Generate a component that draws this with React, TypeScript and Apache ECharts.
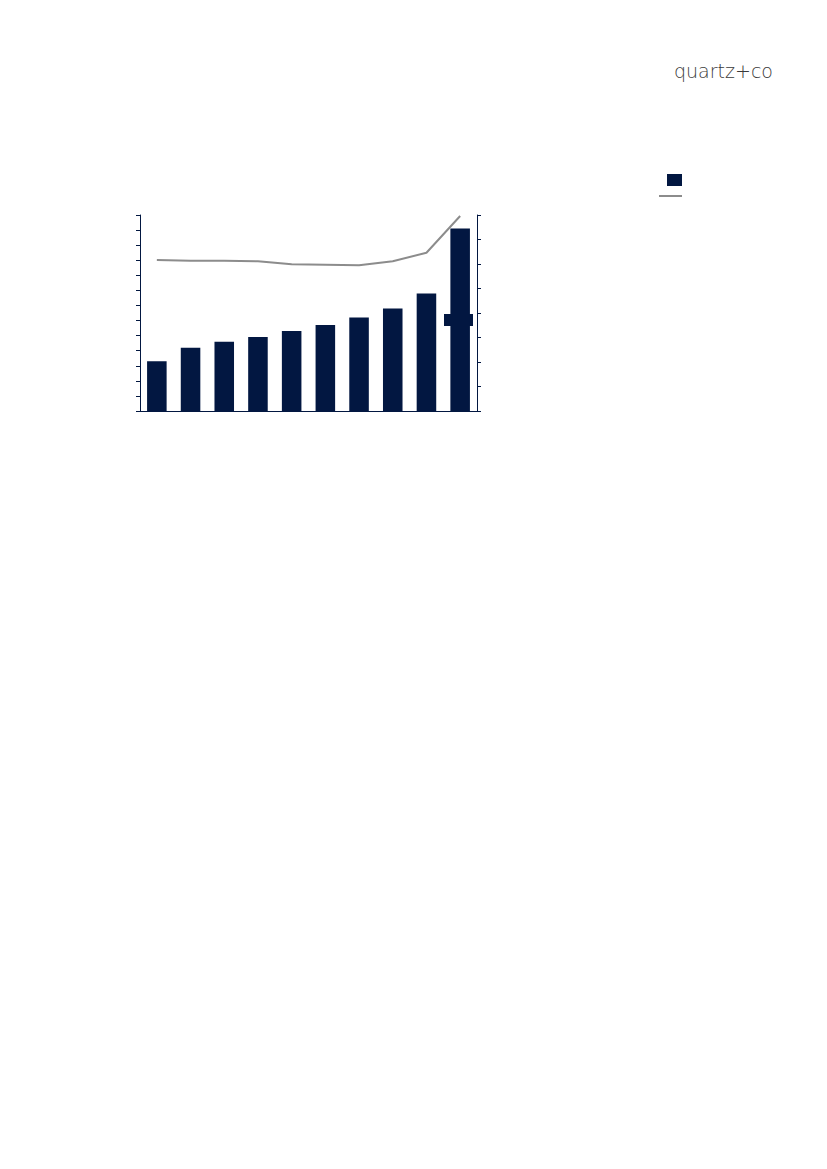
import React, { useRef, useEffect } from 'react';
import * as echarts from 'echarts';

// ten periods, names are not printed in the source
const categories = ['1', '2', '3', '4', '5', '6', '7', '8', '9', '10'];
// bar values on the left axis (0-130)
const barValues = [33, 42, 46, 49, 53, 57, 62, 68, 78, 121];
// line values on the right axis (0-80)
const lineValues = [61.6, 61.3, 61.3, 61.1, 59.9, 59.7, 59.5, 61.1, 64.6, 79.6];

const NAVY = '#021741';
const GREY = '#8c8c8c';

const App: React.FC = () => {
  const chartRef = useRef<HTMLDivElement>(null);

  useEffect(() => {
    const chart = echarts.init(chartRef.current, null, { renderer: 'svg' });

    const option = {
      animation: false,
      backgroundColor: '#ffffff',
      grid: { left: 140, right: 350, top: 215, bottom: 758 },
      legend: [
        {
          data: [{ name: 'Bars', icon: 'rect' }],
          left: 667,
          top: 174,
          itemWidth: 15,
          itemHeight: 12,
          padding: 0,
          formatter: () => '',
          selectedMode: false
        },
        {
          data: [{ name: 'Line', icon: 'rect', itemStyle: { color: GREY } }],
          left: 659,
          top: 195,
          itemWidth: 23,
          itemHeight: 2,
          padding: 0,
          formatter: () => '',
          selectedMode: false
        }
      ],
      xAxis: {
        type: 'category',
        data: categories,
        axisLine: { lineStyle: { color: NAVY, width: 1 } },
        axisTick: { show: false },
        axisLabel: { show: false }
      },
      yAxis: [
        {
          type: 'value',
          min: 0,
          max: 130,
          interval: 10,
          axisLine: { show: true, lineStyle: { color: NAVY, width: 1 } },
          axisTick: { show: true, length: 4, lineStyle: { color: NAVY } },
          axisLabel: { show: false },
          splitLine: { show: false }
        },
        {
          type: 'value',
          min: 0,
          max: 80,
          interval: 10,
          position: 'right',
          axisLine: { show: true, lineStyle: { color: NAVY, width: 1 } },
          axisTick: { show: true, length: 4, lineStyle: { color: NAVY } },
          axisLabel: { show: false },
          splitLine: { show: false }
        }
      ],
      series: [
        {
          name: 'Bars',
          type: 'bar',
          data: barValues,
          yAxisIndex: 0,
          barCategoryGap: '42%',
          itemStyle: { color: NAVY }
        },
        {
          name: 'Line',
          type: 'line',
          data: lineValues,
          yAxisIndex: 1,
          symbol: 'none',
          lineStyle: { color: GREY, width: 2 },
          itemStyle: { color: GREY },
          z: 3
        }
      ],
      graphic: [
        {
          type: 'text',
          left: 674,
          top: 61,
          style: {
            text: 'quartz+co',
            fontSize: 19,
            fontFamily: 'DejaVu Sans',
            fontWeight: 200,
            fill: '#3a3a3a'
          }
        },
        {
          type: 'rect',
          shape: { x: 444, y: 314, width: 29, height: 12 },
          style: { fill: NAVY },
          z: 10
        }
      ]
    };

    chart.setOption(option);
    return () => {
      chart.dispose();
    };
  }, []);

  return (
    <div
      ref={chartRef}
      style={{ position: 'absolute', left: 0, top: 0, width: '827px', height: '1169px' }}
    />
  );
};

export default App;
